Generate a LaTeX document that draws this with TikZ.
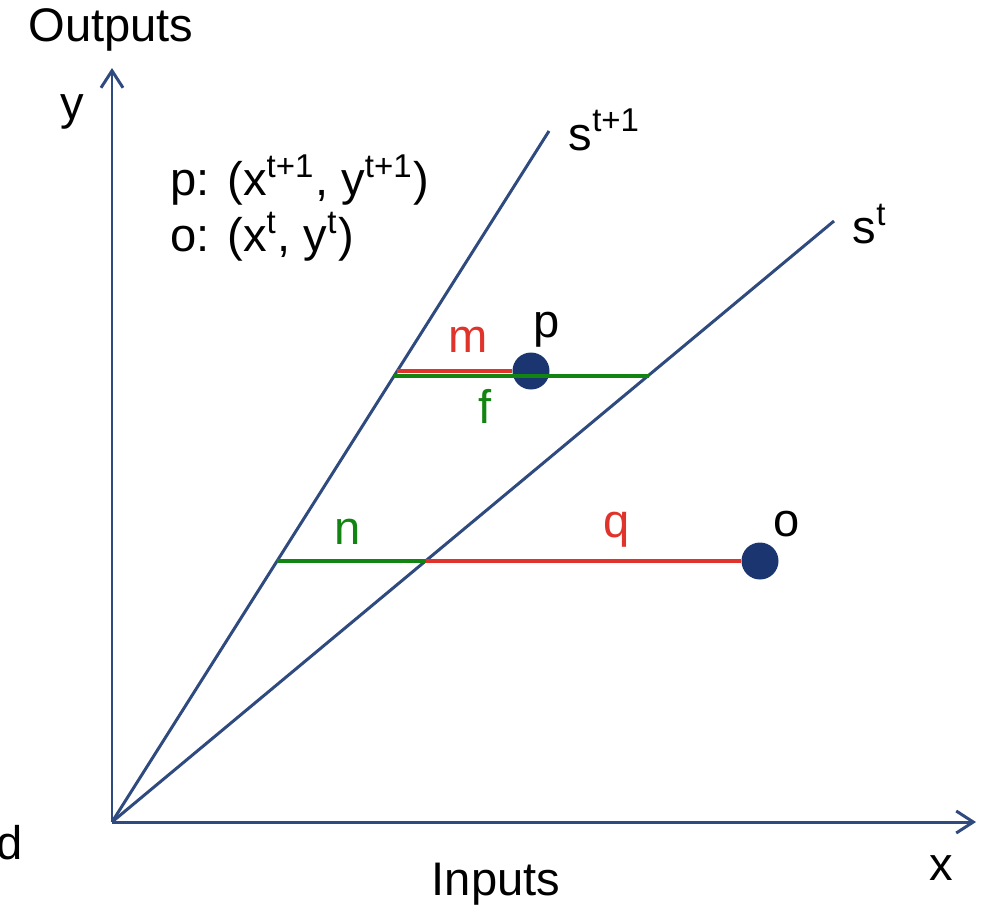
\documentclass[tikz,border=0pt]{standalone}
\usepackage{fontspec}
\setmainfont{Liberation Sans}
\usetikzlibrary{positioning,arrows.meta}
\definecolor{axisblue}{HTML}{2F4A7F}
\definecolor{dotblue}{HTML}{1B3570}
\definecolor{linered}{HTML}{E0332B}
\definecolor{linegreen}{HTML}{118411}
\tikzset{
    % Axes and slope lines
    axisline/.style={
        draw=axisblue,
        line width=0.85pt
    },
    axisarrow/.style={
        axisline,
        -{Straight Barb[length=1.7mm,width=2.2mm,line width=0.85pt]}
    },
    % Horizontal distances
    redline/.style={
        draw=linered,
        line width=0.9pt
    },
    greenline/.style={
        draw=linegreen,
        line width=0.9pt
    },
    % Data points
    datapoint/.style={
        circle,
        fill=dotblue,
        inner sep=0pt,
        minimum size=0.37cm
    },
    % Labels
    label/.style={
        font=\fontsize{13.4}{16}\selectfont,
        inner sep=0pt
    }
}

\begin{document}
\begin{tikzpicture}[x=0.01cm, y=-0.01cm]

\useasboundingbox (0,0) rectangle (987,908);

% === AXES ===
\coordinate (origin) at (112,822);
\coordinate (ytip) at (112,68);
\coordinate (xtip) at (976,822);
\draw[axisarrow] (origin) -- (ytip);
\draw[axisarrow] (origin) -- (xtip);

\node[label] (outputs) at (111,30) {Outputs};
\node[label] (ylab) at (72,112) {y};
\node[label] (inputs) at (496,884) {Inputs};
\node[label] (xlab) at (941,868) {x};
\node[label] (dlab) at (10,843) {d};

% === SLOPE LINES ===
\coordinate (snext) at (549,131);
\coordinate (snow) at (834,221);
\draw[axisline] (origin) -- (snext);
\draw[axisline] (origin) -- (snow);
\node[label, anchor=west] (snextlab) at (568,130) {s\textsuperscript{t+1}};
\node[label, anchor=west] (snowlab) at (852,224) {s\textsuperscript{t}};

% === POINTS ===
\node[label, anchor=west] (plegend) at (170,180) {p: (x\textsuperscript{t+1}, y\textsuperscript{t+1})};
\node[label, anchor=west] (olegend) at (170,237) {o: (x\textsuperscript{t}, y\textsuperscript{t})};

\node[datapoint] (p) at (531,371) {};
\node[datapoint] (o) at (760,561) {};
\node[label] (plab) at (547,330) {p};
\node[label] (olab) at (787,524) {o};

% upper distances
\coordinate (mstart) at (397,371);
\coordinate (fstart) at (394,376);
\coordinate (fend) at (649,376);
\draw[redline] (mstart) -- (p);
\draw[greenline] (fstart) -- (fend);
\node[label, text=linered] (mlab) at (468,340) {m};
\node[label, text=linegreen] (flab) at (485,406) {f};

% lower distances
\coordinate (nstart) at (277,561);
\coordinate (nend) at (426,561);
\draw[greenline] (nstart) -- (nend);
\draw[redline] (nend) -- (o);
\node[label, text=linegreen] (nlab) at (348,532) {n};
\node[label, text=linered] (qlab) at (617,530) {q};

\end{tikzpicture}
\end{document}
